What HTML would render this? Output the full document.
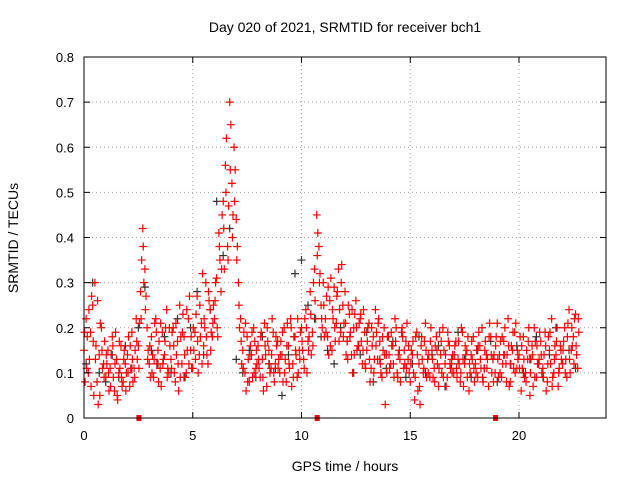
<!DOCTYPE html>
<html><head><meta charset="utf-8"><style>
body{margin:0;background:#fff;}
svg{display:block;font-family:"Liberation Sans",sans-serif;}
</style></head><body>
<svg id="chart" width="640" height="480" viewBox="0 0 640 480">
<rect x="0" y="0" width="640" height="480" fill="#fff"/>
<text x="345" y="32" font-size="14" text-anchor="middle">Day 020 of 2021, SRMTID for receiver bch1</text>
<text x="345" y="471" font-size="14" text-anchor="middle">GPS time / hours</text>
<text transform="translate(18,238) rotate(-90)" font-size="14" text-anchor="middle">SRMTID / TECUs</text>
<g id="grid"></g><g id="marks"></g><g id="axes"></g>
</svg>
<script>
const xTicks=[0,5,10,15,20];
const yTicks=[0,0.1,0.2,0.3,0.4,0.5,0.6,0.7,0.8];
const yTickLabels=["0","0.1","0.2","0.3","0.4","0.5","0.6","0.7","0.8"];
const step=0.1;
const redA=[.15,.22,.10,.19,.25,.30,.08,.14,.20,.12,
.09,.15,.11,.18,.06,.13,.10,.16,.08,.12,
.14,.07,.19,.11,.22,.16,.28,.42,.33,.20,
.12,.18,.09,.22,.15,.11,.19,.14,.24,.10,
.13,.20,.08,.17,.25,.12,.18,.10,.22,.15,
.11,.19,.27,.14,.21,.16,.30,.12,.24,.18,
.22,.31,.41,.28,.48,.56,.38,.70,.52,.60,
.44,.30,.22,.15,.10,.18,.08,.14,.20,.11,
.16,.09,.13,.21,.07,.15,.11,.19,.12,.17,
.10,.14,.20,.08,.16,.22,.12,.18,.09,.15,
.20,.13,.24,.17,.28,.19,.33,.45,.38,.25,
.30,.22,.18,.26,.15,.29,.21,.33,.19,.25,
.28,.17,.23,.14,.20,.26,.16,.22,.12,.19,
.15,.21,.11,.18,.24,.13,.17,.09,.20,.14,
.18,.12,.16,.22,.10,.15,.19,.11,.17,.13,
.08,.14,.04,.19,.12,.16,.10,.21,.13,.09,
.15,.11,.18,.07,.14,.20,.12,.09,.16,.13,
.10,.17,.13,.08,.19,.12,.15,.06,.14,.18,
.12,.09,.16,.20,.11,.14,.07,.18,.13,.10,
.21,.14,.09,.17,.12,.22,.08,.15,.19,.11,
.14,.06,.18,.10,.13,.05,.16,.20,.09,.12,
.17,.11,.19,.08,.15,.22,.10,.14,.07,.16,
.12,.20,.09,.24,.15,.18,.23,.11];
const redB=[.08,.18,.13,.27,.05,.16,.03,.21,.11,.17,
.12,.06,.14,.09,.19,.04,.11,.07,.15,.10,
.18,.11,.08,.15,.13,.21,.35,.30,.27,.15,
.09,.14,.21,.12,.17,.07,.13,.20,.11,.16,
.19,.10,.14,.06,.18,.23,.09,.15,.27,.11,
.15,.23,.10,.18,.32,.20,.14,.26,.19,.25,
.30,.18,.35,.45,.33,.62,.47,.65,.45,.55,
.38,.20,.12,.19,.06,.13,.16,.09,.17,.12,
.11,.19,.06,.14,.17,.10,.22,.08,.16,.13,
.17,.08,.13,.21,.11,.07,.18,.14,.10,.19,
.15,.22,.10,.18,.14,.30,.22,.41,.32,.20,
.18,.27,.14,.31,.22,.17,.28,.24,.34,.21,
.14,.25,.19,.10,.23,.15,.21,.17,.24,.11,
.20,.08,.16,.13,.19,.22,.10,.15,.03,.18,
.11,.16,.09,.20,.14,.08,.18,.12,.21,.10,
.15,.10,.18,.06,.03,.13,.17,.09,.14,.20,
.09,.16,.12,.19,.10,.15,.07,.17,.11,.14,
.16,.09,.12,.20,.07,.14,.18,.10,.13,.08,
.15,.19,.11,.08,.17,.13,.21,.10,.14,.18,
.09,.17,.12,.20,.14,.07,.16,.11,.21,.13,
.18,.11,.09,.15,.20,.13,.07,.17,.12,.19,
.10,.14,.06,.18,.12,.09,.16,.20,.11,.13,
.17,.13,.21,.10,.16,.22,.14,.19];
const redC=[.19,.11,.24,.07,.17,.13,.26,.05,.15,.09,
.14,.10,.07,.16,.12,.05,.17,.09,.13,.06,
.10,.16,.13,.09,.17,.11,.22,.38,.24,.13,
.16,.10,.13,.19,.08,.21,.12,.17,.09,.20,
.11,.16,.21,.12,.09,.19,.14,.24,.12,.18,
.20,.13,.17,.25,.12,.22,.18,.28,.15,.21,
.26,.20,.38,.33,.42,.50,.35,.55,.40,.48,
.35,.25,.17,.11,.21,.08,.14,.19,.10,.15,
.13,.18,.09,.16,.20,.12,.14,.10,.18,.11,
.14,.19,.10,.16,.12,.20,.09,.15,.22,.13,
.17,.11,.20,.15,.23,.16,.26,.36,.30,.22,
.25,.19,.29,.16,.24,.20,.27,.17,.30,.18,
.21,.13,.18,.24,.14,.20,.16,.23,.15,.12,
.17,.13,.20,.10,.16,.21,.12,.18,.14,.10,
.14,.19,.12,.17,.09,.13,.20,.15,.11,.16,
.12,.17,.09,.14,.07,.18,.11,.15,.10,.17,
.13,.08,.15,.11,.17,.09,.14,.19,.12,.10,
.14,.11,.17,.10,.13,.16,.09,.12,.17,.11,
.10,.16,.13,.09,.15,.11,.18,.14,.08,.16,
.13,.10,.18,.14,.08,.16,.12,.19,.10,.15,
.11,.16,.13,.08,.17,.10,.14,.09,.16,.13,
.14,.09,.16,.12,.19,.07,.13,.17,.10,.15,
.15,.10,.18,.13,.20,.12,.16,.22];
const blackStep=0.3;
const black=[.12,.30,.10,.08,.14,.09,.16,.11,.20,.29,.15,.12,.18,.10,.22,.09,.20,.28,.14,.24,.48,.36,.42,.13,.10,.15,.09,.18,.12,.11,.05,.14,.32,.35,.25,.22,.18,.15,.12,.20,.17,.10,.14,.19,.08,.13,.11,.17,.15,.09,.12,.18,.10,.14,.16,.07,.12,.19,.13,.09,.15,.11,.17,.08,.14,.12,.16,.10,.13,.18,.09,.14,.20,.12,.15,.11];
const gapMarks=[2.5,10.7,18.9];

const X0=84,X1=606,Y0=418,Y1=57;
const xs=v=>X0+v/24*(X1-X0);
const ys=v=>Y0-v/0.8*(Y0-Y1);
const NS="http://www.w3.org/2000/svg";
function mk(t,a,p){const e=document.createElementNS(NS,t);for(const k in a)e.setAttribute(k,a[k]);p.appendChild(e);return e;}
const grid=document.getElementById('grid'),marks=document.getElementById('marks'),axes=document.getElementById('axes');
xTicks.forEach(t=>{if(t>0){const l=mk('line',{x1:xs(t),x2:xs(t),y1:Y1,y2:Y0,stroke:'#a0a0a0','stroke-dasharray':'1,3'},grid);

}
const tx=mk('text',{x:xs(t),y:Y0+22,'font-size':13,'text-anchor':'middle'},axes);tx.textContent=t;


mk('line',{x1:xs(t),x2:xs(t),y1:Y0,y2:Y0-6,stroke:'#000'},axes);mk('line',{x1:xs(t),x2:xs(t),y1:Y1,y2:Y1+6,stroke:'#000'},axes);});
yTicks.forEach((t,i)=>{if(t>0&&t<0.8){const l=mk('line',{x1:X0,x2:X1,y1:ys(t),y2:ys(t),stroke:'#a0a0a0','stroke-dasharray':'1,3'},grid);

}
const tx=mk('text',{x:X0-10,y:ys(t)+5,'font-size':13,'text-anchor':'end'},axes);tx.textContent=yTickLabels[i];


mk('line',{x1:X0,x2:X0+6,y1:ys(t),y2:ys(t),stroke:'#000'},axes);mk('line',{x1:X1,x2:X1-6,y1:ys(t),y2:ys(t),stroke:'#000'},axes);});
const frame=mk('rect',{x:X0,y:Y1,width:X1-X0,height:Y0-Y1,fill:'none',stroke:'#000'},axes);


function plus(x,y,c,name){const p=mk('path',{d:`M${x-4},${y}h8M${x},${y-4}v8`,stroke:c,'stroke-width':1.2,fill:'none'},marks);

}
black.forEach((v,i)=>plus(xs(i*blackStep+0.1),ys(v),'#333','black-point'));
redA.forEach((v,i)=>plus(xs(i*step),ys(v),'#f00','red-point'));
redB.forEach((v,i)=>plus(xs(i*step+0.05),ys(v),'#f00','red-point'));
redC.forEach((v,i)=>plus(xs(i*step+0.025),ys(v),'#f00','red-point'));
gapMarks.forEach(g=>{const r=mk('rect',{x:xs(g)-2,y:Y0-3,width:5,height:6,fill:'#f00'},marks);

});
</script>
</body></html>
